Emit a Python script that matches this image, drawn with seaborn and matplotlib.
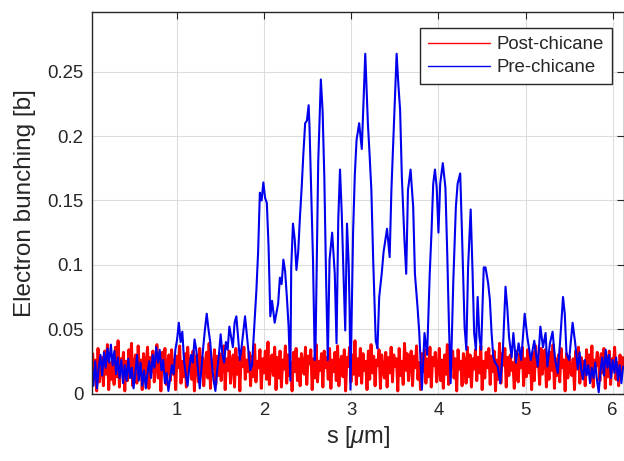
import numpy as np
import pandas as pd
import seaborn as sns
import matplotlib.pyplot as plt

# Pre-chicane bunching (blue)
s_pre = [0.00, 0.02, 0.04, 0.06, 0.08, 0.10, 0.12, 0.14, 0.16, 0.18, 0.20, 0.22, 0.24, 0.26,
         0.28, 0.30, 0.32, 0.34, 0.36, 0.38, 0.40, 0.42, 0.44, 0.46, 0.48, 0.50, 0.52, 0.54,
         0.56, 0.58, 0.60, 0.62, 0.64, 0.66, 0.68, 0.70, 0.72, 0.74, 0.76, 0.78, 0.80, 0.82,
         0.84, 0.86, 0.88, 0.90, 0.92, 0.94, 0.96, 0.98,
         1.00, 1.02, 1.04, 1.06, 1.08, 1.10, 1.12, 1.14, 1.16, 1.18, 1.20, 1.22, 1.24, 1.26,
         1.28, 1.30, 1.32, 1.34, 1.36, 1.38, 1.40, 1.42, 1.44, 1.46, 1.48, 1.50, 1.52, 1.54,
         1.56, 1.58, 1.60, 1.62, 1.64, 1.66, 1.68, 1.70, 1.72, 1.74, 1.76, 1.78, 1.80, 1.82,
         1.84, 1.86, 1.88,
         1.91, 1.93, 1.95, 1.97, 1.99,
         2.01, 2.03, 2.05, 2.07, 2.09, 2.12, 2.16, 2.18, 2.20, 2.22, 2.24, 2.26, 2.28, 2.30,
         2.31, 2.33, 2.35, 2.37, 2.39, 2.41, 2.43, 2.45, 2.47, 2.49, 2.51, 2.52, 2.54, 2.56,
         2.58, 2.59, 2.62, 2.65, 2.67, 2.69, 2.71, 2.73, 2.75, 2.78, 2.81, 2.83, 2.85, 2.87,
         2.89, 2.91, 2.93, 2.95, 2.97, 2.98, 2.99, 3.02, 3.04, 3.06, 3.09, 3.12, 3.14, 3.16,
         3.19, 3.21, 3.23, 3.25, 3.28, 3.30, 3.32, 3.35, 3.37, 3.39, 3.41, 3.44, 3.46, 3.49,
         3.52, 3.54, 3.56, 3.58, 3.61, 3.63, 3.65, 3.68, 3.71, 3.73, 3.76, 3.78, 3.81, 3.84,
         3.87, 3.90, 3.92, 3.94, 3.96, 3.98, 4.00, 4.02, 4.05, 4.08, 4.10, 4.12, 4.14, 4.17,
         4.20, 4.22, 4.25, 4.27, 4.30, 4.32, 4.34, 4.37, 4.39, 4.41, 4.43, 4.45, 4.47, 4.49,
         4.52, 4.54, 4.57, 4.59, 4.61, 4.63, 4.65, 4.68, 4.71, 4.74, 4.77, 4.79, 4.81, 4.84,
         4.86, 4.89, 4.92, 4.95, 4.99, 5.02, 5.06, 5.10, 5.14, 5.17, 5.20, 5.23, 5.25, 5.28,
         5.31, 5.34, 5.37, 5.40, 5.43, 5.45, 5.47, 5.50, 5.54, 5.57,
         5.60, 5.62, 5.64, 5.66, 5.68, 5.70, 5.72, 5.74, 5.76, 5.78, 5.80, 5.82, 5.84, 5.86,
         5.88, 5.90, 5.92, 5.94, 5.96, 5.98, 6.00, 6.02, 6.04, 6.06, 6.08, 6.10, 6.12]
b_pre = [0.012, 0.022, 0.006, 0.025, 0.004, 0.020, 0.030, 0.014, 0.032, 0.020, 0.035, 0.024, 0.038, 0.022,
         0.033, 0.015, 0.028, 0.012, 0.026, 0.008, 0.022, 0.010, 0.027, 0.012, 0.020, 0.004, 0.015, 0.030,
         0.010, 0.024, 0.006, 0.018, 0.004, 0.016, 0.025, 0.012, 0.030, 0.020, 0.036, 0.024, 0.034, 0.018,
         0.026, 0.008, 0.016, 0.002, 0.012, 0.022, 0.015, 0.034,
         0.042, 0.055, 0.040, 0.048, 0.025, 0.015, 0.006, 0.020, 0.030, 0.024, 0.042, 0.034, 0.018, 0.004,
         0.020, 0.036, 0.050, 0.062, 0.050, 0.040, 0.022, 0.010, 0.002, 0.018, 0.030, 0.046, 0.030, 0.024,
         0.040, 0.034, 0.052, 0.044, 0.036, 0.055, 0.060, 0.044, 0.026, 0.036, 0.048, 0.060, 0.046, 0.032,
         0.018, 0.022, 0.045,
         0.080, 0.110, 0.156, 0.150, 0.164,
         0.152, 0.148, 0.114, 0.060, 0.072, 0.055, 0.070, 0.090, 0.085, 0.104, 0.095, 0.075, 0.052, 0.010,
         0.098, 0.132, 0.120, 0.096, 0.110, 0.137, 0.160, 0.187, 0.210, 0.212, 0.224, 0.207, 0.155, 0.104,
         0.026, 0.040, 0.180, 0.244, 0.220, 0.168, 0.090, 0.026, 0.104, 0.125, 0.093, 0.039, 0.135, 0.174,
         0.140, 0.093, 0.049, 0.132, 0.100, 0.066, 0.003, 0.125, 0.170, 0.197, 0.210, 0.190, 0.228, 0.264,
         0.210, 0.185, 0.158, 0.106, 0.041, 0.035, 0.075, 0.094, 0.110, 0.119, 0.128, 0.106, 0.158, 0.210,
         0.264, 0.240, 0.220, 0.168, 0.119, 0.093, 0.158, 0.174, 0.145, 0.093, 0.067, 0.047, 0.003, 0.047,
         0.030, 0.093, 0.125, 0.163, 0.174, 0.160, 0.125, 0.163, 0.179, 0.160, 0.111, 0.055, 0.008, 0.086,
         0.145, 0.163, 0.171, 0.125, 0.052, 0.034, 0.098, 0.143, 0.098, 0.047, 0.034, 0.075, 0.044, 0.034,
         0.098, 0.098, 0.086, 0.073, 0.047, 0.028, 0.024, 0.021, 0.008, 0.034, 0.083, 0.067, 0.044, 0.028,
         0.047, 0.024, 0.039, 0.026, 0.062, 0.044, 0.026, 0.041, 0.021, 0.052, 0.036, 0.047, 0.021, 0.039,
         0.048, 0.026, 0.016, 0.044, 0.075, 0.062, 0.031, 0.026, 0.055, 0.039,
         0.019, 0.032, 0.018, 0.011, 0.026, 0.014, 0.022, 0.008, 0.020, 0.012, 0.024, 0.010, 0.001, 0.018,
         0.028, 0.014, 0.034, 0.020, 0.030, 0.012, 0.026, 0.016, 0.028, 0.010, 0.022, 0.008, 0.021]

# Post-chicane bunching (red), noise floor
b_post = [
    0.021, 0.004, 0.031, 0.012, 0.026, 0.002, 0.035, 0.009, 0.019, 0.028, 0.006, 0.033, 0.015, 0.038, 0.003, 0.024, 0.011, 0.029, 0.007, 0.036,
    0.013, 0.041, 0.005, 0.027, 0.018, 0.032, 0.002, 0.025, 0.010, 0.034, 0.016, 0.039, 0.006, 0.022, 0.030, 0.008, 0.037, 0.014, 0.026, 0.003,
    0.031, 0.011, 0.024, 0.036, 0.004, 0.028, 0.017, 0.033, 0.009, 0.021, 0.038, 0.012, 0.027, 0.002, 0.032, 0.019, 0.035, 0.007, 0.023, 0.030,
    0.010, 0.034, 0.015, 0.026, 0.003, 0.029, 0.020, 0.037, 0.008, 0.025, 0.013, 0.031, 0.005, 0.036, 0.018, 0.027, 0.011, 0.033, 0.002, 0.024,
    0.030, 0.009, 0.035, 0.016, 0.028, 0.006, 0.022, 0.032, 0.012, 0.039, 0.004, 0.026, 0.019, 0.034, 0.007, 0.029, 0.014, 0.031, 0.010, 0.025,
    0.037, 0.003, 0.027, 0.018, 0.033, 0.008, 0.024, 0.030, 0.005, 0.035, 0.015, 0.028, 0.002, 0.031, 0.021, 0.036, 0.011, 0.026, 0.017, 0.032,
    0.006, 0.029, 0.013, 0.038, 0.009, 0.025, 0.020, 0.034, 0.004, 0.027, 0.016, 0.033, 0.011, 0.040, 0.007, 0.023, 0.030, 0.014, 0.036, 0.003,
    0.028, 0.012, 0.033, 0.005, 0.026, 0.019, 0.037, 0.008, 0.030, 0.014, 0.024, 0.002, 0.032, 0.017, 0.035, 0.010, 0.027, 0.006, 0.031, 0.022,
    0.015, 0.036, 0.007, 0.029, 0.023, 0.034, 0.003, 0.027, 0.012, 0.038, 0.009, 0.025, 0.018, 0.031, 0.005, 0.033, 0.020, 0.028, 0.011, 0.035,
    0.004, 0.026, 0.017, 0.032, 0.010, 0.037, 0.006, 0.024, 0.029, 0.013, 0.034, 0.002, 0.028, 0.021, 0.036, 0.009, 0.030, 0.015, 0.041, 0.007,
    0.027, 0.014, 0.035, 0.008, 0.031, 0.018, 0.025, 0.003, 0.033, 0.011, 0.038, 0.016, 0.029, 0.006, 0.026, 0.022, 0.034, 0.004, 0.030, 0.019,
    0.012, 0.032, 0.005, 0.028, 0.016, 0.036, 0.009, 0.030, 0.021, 0.027, 0.002, 0.035, 0.014, 0.025, 0.007, 0.039, 0.018, 0.031, 0.010, 0.026,
    0.033, 0.006, 0.029, 0.020, 0.037, 0.011, 0.024, 0.003, 0.031, 0.017, 0.034, 0.008, 0.027, 0.013, 0.036, 0.005, 0.028, 0.022, 0.032, 0.009,
    0.018, 0.035, 0.010, 0.026, 0.004, 0.030, 0.015, 0.038, 0.007, 0.029, 0.023, 0.033, 0.012, 0.027, 0.002, 0.034, 0.019, 0.025, 0.006, 0.031,
    0.024, 0.008, 0.036, 0.013, 0.030, 0.005, 0.027, 0.019, 0.034, 0.010, 0.028, 0.016, 0.037, 0.003, 0.025, 0.012, 0.032, 0.020, 0.035, 0.007,
    0.029, 0.017, 0.033, 0.002, 0.026, 0.011, 0.039, 0.008, 0.031, 0.022, 0.035, 0.005, 0.028, 0.014, 0.030, 0.018, 0.024, 0.004, 0.033, 0.012,
    0.009, 0.031, 0.020, 0.036, 0.006, 0.027, 0.013, 0.034, 0.016, 0.029, 0.003, 0.032, 0.010, 0.037, 0.021, 0.026, 0.007, 0.035, 0.015, 0.028,
    0.034, 0.005, 0.025, 0.011, 0.032, 0.018, 0.038, 0.004, 0.027, 0.014, 0.030, 0.009, 0.035, 0.020, 0.026, 0.002, 0.031, 0.012, 0.029, 0.017,
    0.014, 0.027, 0.003, 0.033, 0.019, 0.036, 0.008, 0.028, 0.012, 0.025, 0.006, 0.034, 0.016, 0.030, 0.010, 0.037, 0.005, 0.026, 0.021, 0.032,
    0.025, 0.010, 0.031, 0.016, 0.035, 0.004, 0.029, 0.013, 0.033, 0.007, 0.027, 0.019, 0.036, 0.011, 0.024, 0.006, 0.030, 0.015, 0.028, 0.020,
]
s_post = np.linspace(0.0, 6.13, len(b_post))  # uniform sampling grid along s

x_ticks = [1, 2, 3, 4, 5, 6]
y_ticks = [0, 0.05, 0.1, 0.15, 0.2, 0.25]
y_tick_labels = ['0', '0.05', '0.1', '0.15', '0.2', '0.25']

sns.set_theme(style='whitegrid')
plt.rcParams['font.family'] = ['Liberation Sans', 'DejaVu Sans']
plt.rcParams['mathtext.fontset'] = 'custom'
plt.rcParams['mathtext.rm'] = 'Liberation Sans'
plt.rcParams['mathtext.it'] = 'Liberation Sans:italic'

fig = plt.figure(figsize=(6.24, 4.61), dpi=100)
ax = fig.add_axes([0.147, 0.1464, 0.853, 0.8275])
ax.set_facecolor('white')

sns.lineplot(x=s_post, y=b_post, color='#ff0000', linewidth=2.1,
             label='Post-chicane', ax=ax)
sns.lineplot(x=s_pre, y=b_pre, color='#0000ee', linewidth=1.5,
             label='Pre-chicane', ax=ax)

ax.set_xlim(0.02, 6.13)
ax.set_ylim(0, 0.2964)
ax.set_xticks(x_ticks)
ax.set_xticklabels([str(t) for t in x_ticks])
ax.set_yticks(y_ticks)
ax.set_yticklabels(y_tick_labels)

ax.grid(True, color='#dcdcdc', linewidth=0.8)
for sp in ax.spines.values():
    sp.set_color('#262626')
    sp.set_linewidth(1.0)
    sp.set_visible(True)
ax.tick_params(direction='in', length=5, width=0.8, top=True, right=True,
               labelsize=13.4, colors='#262626', pad=6)

ax.set_xlabel(r's [$\mu$m]', fontsize=17, color='#262626', labelpad=4)
ax.set_ylabel('Electron bunching [b]', fontsize=17.5, color='#262626', labelpad=8)

leg = ax.legend(loc='upper right', bbox_to_anchor=(0.9775, 0.958),
                borderaxespad=0, fontsize=13.4, handlelength=3.3,
                handletextpad=0.35, labelspacing=0.3, fancybox=False,
                framealpha=1, edgecolor='#262626', borderpad=0.45)
leg.get_frame().set_linewidth(1.0)
for h in leg.get_lines():
    h.set_linewidth(1.0)

fig.savefig('out.png', dpi=100)
